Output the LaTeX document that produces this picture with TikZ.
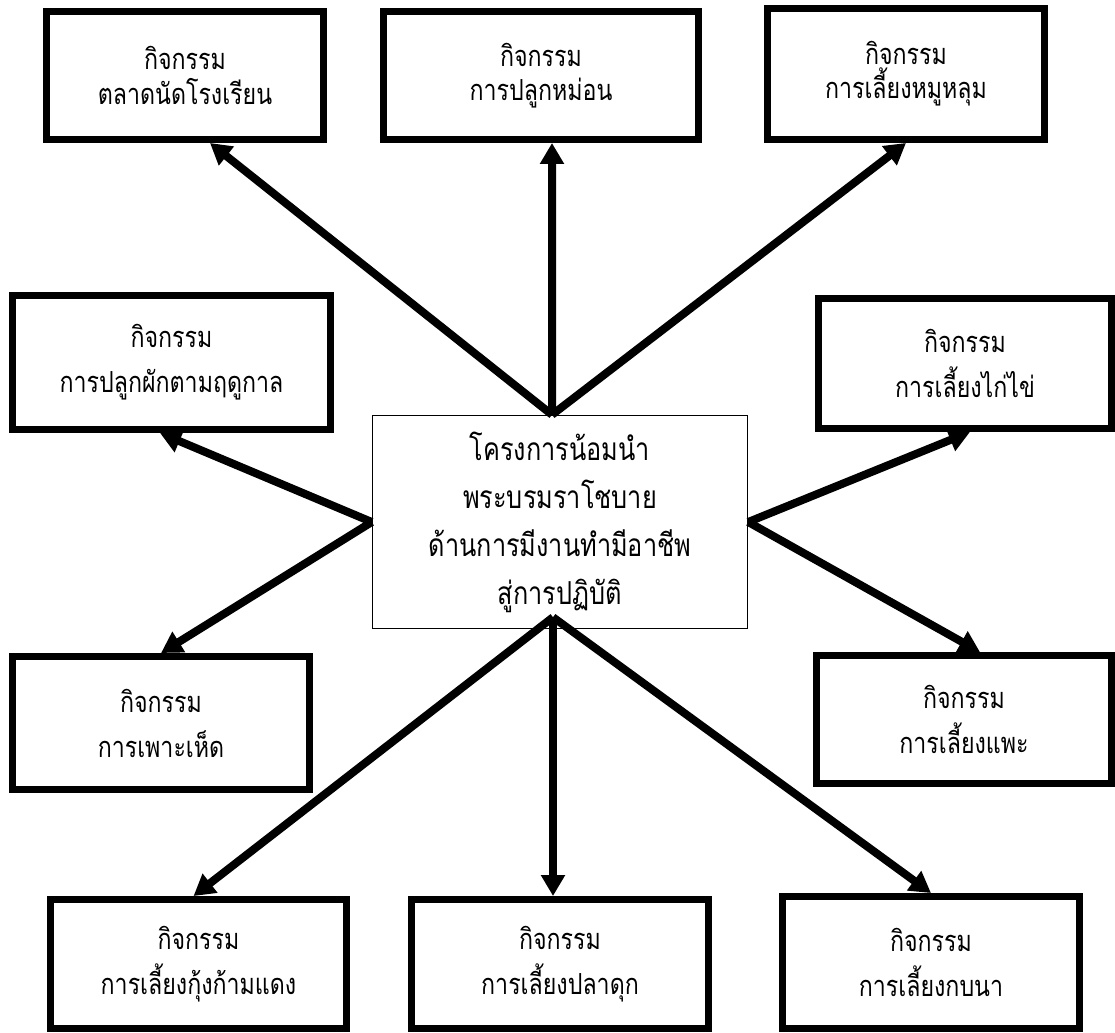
\documentclass[tikz,border=0pt]{standalone}
\usepackage{fontspec}
\newfontfamily\thaifont[Script=Thai,FakeStretch=0.8]{Loma}
\usepackage{tikz}
\usetikzlibrary{arrows.meta,positioning}

\begin{document}
\begin{tikzpicture}[
    x=0.02cm, y=-0.02cm,
    box/.style={draw, line width=0.14cm, align=center, minimum width=5.9cm, minimum height=2.6cm,
      font=\thaifont\fontsize{16.5}{25.6}\selectfont},
    topbox/.style={box, font=\thaifont\fontsize{16.5}{19.5}\selectfont},
    hub/.style={draw, line width=0.03cm, align=center, minimum width=7.5cm, minimum height=4.26cm,
      font=\thaifont\fontsize{18}{27.3}\selectfont},
    arrow/.style={-{Triangle[length=0.42cm, width=0.46cm]}, line width=0.16cm}
  ]
    \useasboundingbox (0,0) rectangle (1115,1032);

    \node[hub] (hub) at (560,522) {โครงการน้อมนำ\\พระบรมราโชบาย\\ด้านการมีงานทำมีอาชีพ\\สู่การปฏิบัติ};

    \node[topbox, minimum width=5.54cm, minimum height=2.56cm] (market) at (185,75.5) {กิจกรรม\\ตลาดนัดโรงเรียน};
    \node[topbox, minimum width=6.3cm, minimum height=2.56cm] (shoot) at (541,75.5) {กิจกรรม\\การปลูกหม่อน};
    \node[topbox, minimum width=5.54cm, minimum height=2.62cm] (pig) at (906,74) {กิจกรรม\\การเลี้ยงหมูหลุม};
    \node[box, minimum width=6.36cm, minimum height=2.68cm] (veg) at (171.5,362.5) {กิจกรรม\\การปลูกผักตามฤดูกาล};
    \node[box, minimum width=5.94cm, minimum height=2.66cm] (mush) at (161,723) {กิจกรรม\\การเพาะเห็ด};
    \node[box, minimum width=5.86cm, minimum height=2.6cm] (hen) at (965,363.5) {กิจกรรม\\การเลี้ยงไก่ไข่};
    \node[box, minimum width=5.9cm, minimum height=2.56cm] (goat) at (964,719.5) {กิจกรรม\\การเลี้ยงแพะ};
    \node[box, minimum width=5.92cm, minimum height=2.58cm] (cray) at (198.5,964) {กิจกรรม\\การเลี้ยงกุ้งก้ามแดง};
    \node[box, minimum width=5.94cm, minimum height=2.58cm] (fish) at (560,964) {กิจกรรม\\การเลี้ยงปลาดุก};
    \node[box, minimum width=5.94cm, minimum height=2.64cm] (frog) at (931,962.5) {กิจกรรม\\การเลี้ยงกบนา};

    \coordinate (hubtop) at ([xshift=-0.16cm]hub.north);
    \coordinate (hubbot) at ([xshift=-0.14cm, yshift=0.24cm]hub.south);

    \draw[arrow] (hubtop) -- ([xshift=0.5cm]market.south);
    \draw[arrow] (hubtop) -- ([xshift=0.22cm]shoot.south);
    \draw[arrow] (hubtop) -- (pig.south);
    \draw[arrow] (hub.west) -- ([xshift=-0.23cm]veg.south);
    \draw[arrow] (hub.west) -- (mush.north);
    \draw[arrow] (hub.east) -- ([xshift=0.1cm]hen.south);
    \draw[arrow] (hub.east) -- ([xshift=0.32cm]goat.north);
    \draw[arrow] (hubbot) -- ([xshift=-0.1cm]cray.north);
    \draw[arrow] (hubbot) -- ([xshift=-0.14cm]fish.north);
    \draw[arrow] (hubbot) -- (frog.north);
  \end{tikzpicture}
\end{document}
